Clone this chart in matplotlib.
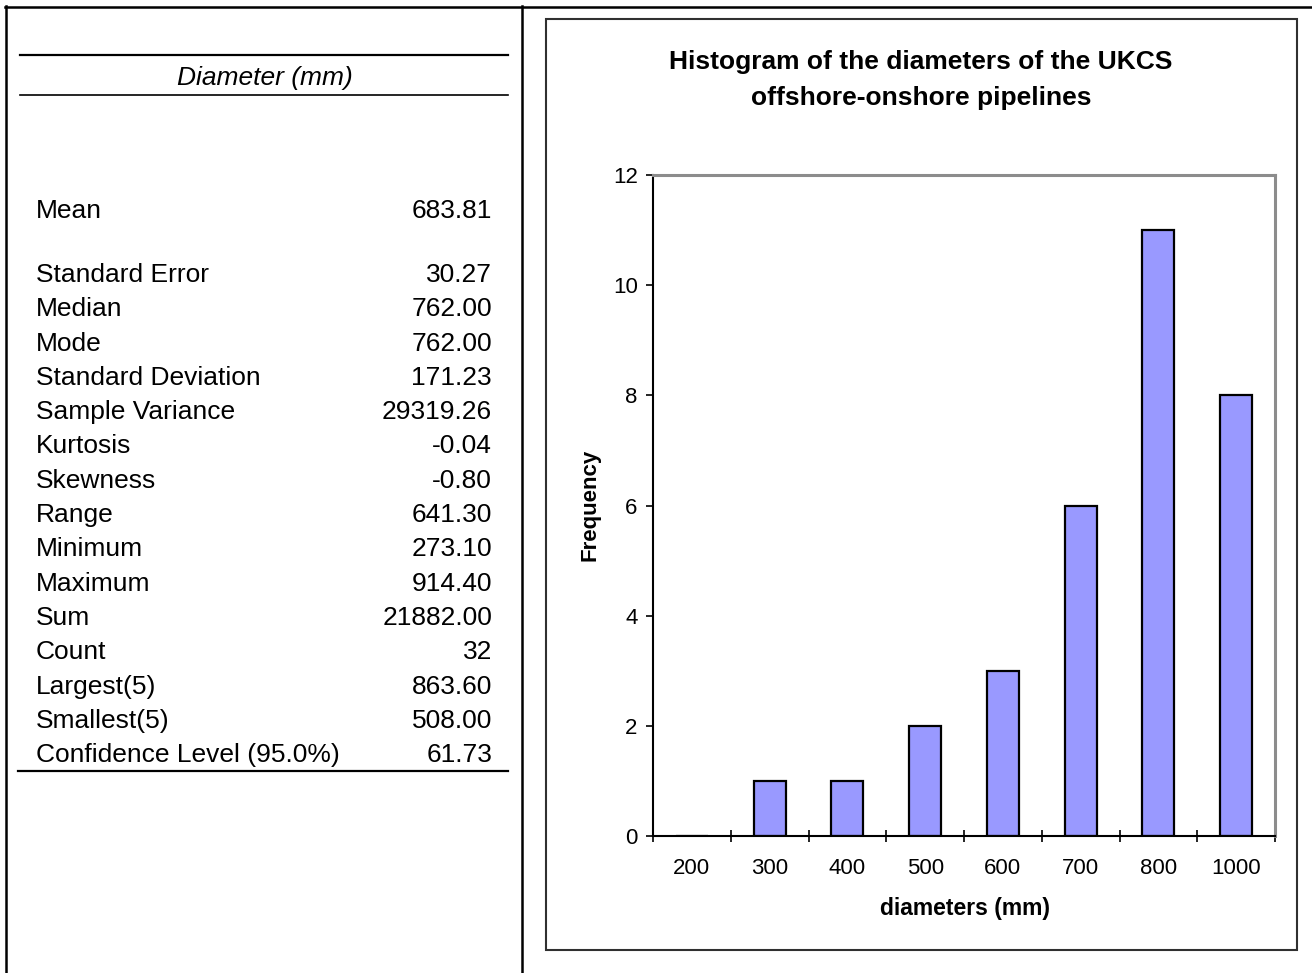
import matplotlib
matplotlib.use('Agg')
import matplotlib.pyplot as plt
from matplotlib.lines import Line2D
from matplotlib.patches import Rectangle

plt.rcParams['font.family'] = ['Liberation Sans', 'DejaVu Sans']

# descriptive statistics of the pipeline diameters
stat_names = ['Mean', 'Standard Error', 'Median', 'Mode', 'Standard Deviation',
              'Sample Variance', 'Kurtosis', 'Skewness', 'Range', 'Minimum',
              'Maximum', 'Sum', 'Count', 'Largest(5)', 'Smallest(5)',
              'Confidence Level (95.0%)']
stat_values = ['683.81', '30.27', '762.00', '762.00', '171.23', '29319.26',
               '-0.04', '-0.80', '641.30', '273.10', '914.40', '21882.00',
               '32', '863.60', '508.00', '61.73']

# histogram bins and counts
bins = ['200', '300', '400', '500', '600', '700', '800', '1000']
freq = [0, 1, 1, 2, 3, 6, 11, 8]

W, H = 1312, 973
fig = plt.figure(figsize=(W / 100, H / 100), dpi=100)


def fx(x):
    return x / W


def fy(y):
    return 1 - y / H


def hline(y, x0, x1, lw=1.8, color='black'):
    fig.add_artist(Line2D([fx(x0), fx(x1)], [fy(y), fy(y)], lw=lw, color=color,
                          transform=fig.transFigure))


def vline(x, y0, y1, lw=1.8, color='black'):
    fig.add_artist(Line2D([fx(x), fx(x)], [fy(y0), fy(y1)], lw=lw, color=color,
                          transform=fig.transFigure))


# outer table grid
hline(7, 5, W)
vline(6, 6, H)
vline(522, 6, H)

# statistics table
hline(55, 20, 508, lw=1.6)
hline(95, 20, 508, lw=1.2)
hline(771, 18, 508, lw=1.6)
fig.text(fx(265), fy(78), 'Diameter (mm)', ha='center', va='center',
         fontsize=19, style='italic')

row_y = [211] + [275 + 34.3 * i for i in range(len(stat_names) - 1)]
for name, val, y in zip(stat_names, stat_values, row_y):
    fig.text(fx(36), fy(y), name, ha='left', va='center', fontsize=19)
    fig.text(fx(492), fy(y), val, ha='right', va='center', fontsize=19)

# chart frame
fig.add_artist(Rectangle((fx(546), fy(950)), fx(1297) - fx(546), fy(19) - fy(950),
                         fill=False, edgecolor='#303030', lw=1.5,
                         transform=fig.transFigure))

ax = fig.add_axes([fx(653), fy(836), fx(1275) - fx(653), fy(175) - fy(836)])
x = list(range(len(bins)))
ax.bar(x, freq, width=0.41, color='#9999ff', edgecolor='black', linewidth=1.6)

ax.set_xlim(-0.5, len(bins) - 0.5)
ax.set_ylim(0, 12)
ax.set_yticks(range(0, 13, 2))
ax.set_xticks(x)
ax.set_xticklabels(bins)
ax.set_xticks([i - 0.5 for i in range(len(bins) + 1)], minor=True)
ax.tick_params(axis='x', which='major', length=0, pad=16, labelsize=16)
ax.tick_params(axis='x', which='minor', direction='inout', length=9, width=1.2)
ax.tick_params(axis='y', direction='out', length=5, width=1.2, pad=6, labelsize=16)

for side in ['left', 'bottom']:
    ax.spines[side].set_color('black')
    ax.spines[side].set_linewidth(1.5)
for side in ['top', 'right']:
    ax.spines[side].set_color('#8c8c8c')
    ax.spines[side].set_linewidth(2.2)

fig.text(fx(921), fy(80), 'Histogram of the diameters of the UKCS\noffshore-onshore pipelines',
         ha='center', va='center', fontsize=19, fontweight='bold', linespacing=1.6)
fig.text(fx(590), fy(505), 'Frequency', rotation=90, ha='center', va='center',
         fontsize=16, fontweight='bold')
fig.text(fx(965), fy(908), 'diameters (mm)', ha='center', va='center',
         fontsize=16.5, fontweight='bold')

fig.savefig('out.png', dpi=100)
